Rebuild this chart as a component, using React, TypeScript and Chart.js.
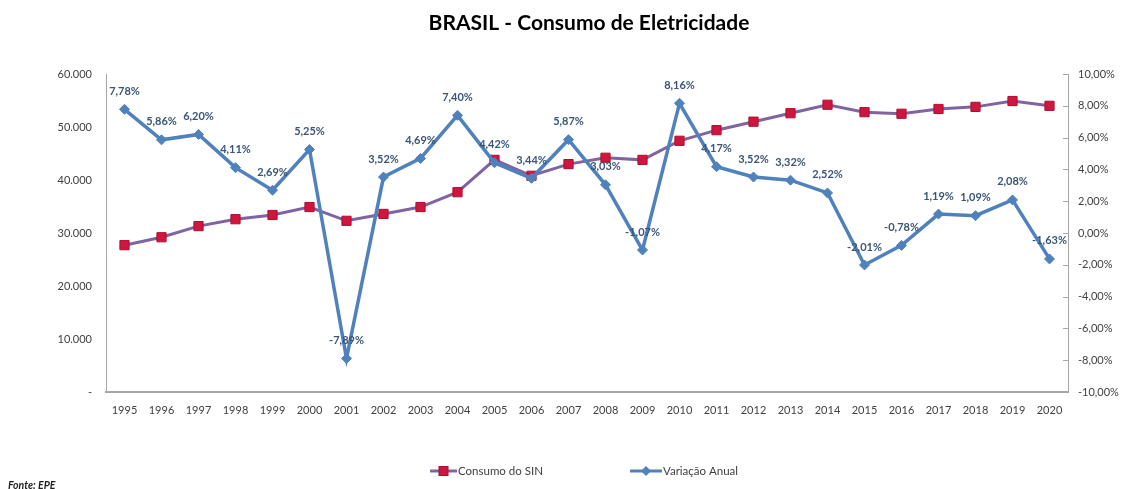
import React, { useEffect, useRef } from "react";
import { Chart, registerables } from "chart.js";

Chart.register(...registerables);

const years = [
  "1995", "1996", "1997", "1998", "1999", "2000", "2001", "2002", "2003", "2004",
  "2005", "2006", "2007", "2008", "2009", "2010", "2011", "2012", "2013", "2014",
  "2015", "2016", "2017", "2018", "2019", "2020",
];

const consumoSIN = [
  27700, 29200, 31300, 32600, 33400, 34900, 32300, 33600, 34900, 37700,
  43800, 40800, 43000, 44200, 43800, 47400, 49400, 51000, 52600, 54200,
  52800, 52500, 53400, 53800, 54900, 54000,
];

const variacaoAnual = [
  7.78, 5.86, 6.2, 4.11, 2.69, 5.25, -7.89, 3.52, 4.69, 7.4,
  4.42, 3.44, 5.87, 3.03, -1.07, 8.16, 4.17, 3.52, 3.32, 2.52,
  -2.01, -0.78, 1.19, 1.09, 2.08, -1.63,
];

const leftTicks = [0, 10000, 20000, 30000, 40000, 50000, 60000];
const rightTicks = [-10, -8, -6, -4, -2, 0, 2, 4, 6, 8, 10];

const titleText = "BRASIL - Consumo de Eletricidade";
const sourceText = "Fonte: EPE";
const seriesNames = ["Consumo do SIN", "Variação Anual"];

const FONT = "Lato, 'Open Sans', sans-serif";
const PURPLE = "#8064A2";
const BLUE = "#4F81BD";
const RED = "#D0163E";
const RED_BORDER = "#A8102E";
const LABEL_BLUE = "#3A5576";
const TICK_COLOR = "#404040";

function fmtThousands(v: number): string {
  if (v === 0) return "-";
  const s = Math.round(v).toString();
  return s.replace(/\B(?=(\d{3})+(?!\d))/g, ".");
}

function fmtPct(v: number): string {
  return v.toFixed(2).replace(".", ",") + "%";
}

const overlayPlugin = {
  id: "overlay",
  afterDatasetsDraw(chart: any) {
    const ctx = chart.ctx as CanvasRenderingContext2D;
    const area = chart.chartArea;
    const meta = chart.getDatasetMeta(1);
    ctx.save();
    ctx.font = `bold 11px ${FONT}`;
    ctx.fillStyle = LABEL_BLUE;
    ctx.textAlign = "center";
    ctx.textBaseline = "middle";
    meta.data.forEach((pt: any, i: number) => {
      ctx.fillText(fmtPct(variacaoAnual[i]), pt.x, pt.y - 18);
    });
    ctx.restore();

    const yR = chart.scales.y1;
    ctx.save();
    ctx.strokeStyle = "#A6A6A6";
    ctx.lineWidth = 1;
    rightTicks.forEach((t) => {
      const py = Math.round(yR.getPixelForValue(t)) + 0.5;
      ctx.beginPath();
      ctx.moveTo(area.right - 5, py);
      ctx.lineTo(area.right, py);
      ctx.stroke();
    });
    ctx.restore();
  },
  afterDraw(chart: any) {
    const ctx = chart.ctx as CanvasRenderingContext2D;
    const area = chart.chartArea;
    const cx = (area.left + area.right) / 2;
    ctx.save();
    ctx.font = `bold 21px ${FONT}`;
    ctx.fillStyle = "#000000";
    ctx.textAlign = "center";
    ctx.textBaseline = "middle";
    ctx.fillText(titleText, cx + 2, 23);

    const ly = 471;
    ctx.font = `11.5px ${FONT}`;
    ctx.textAlign = "left";
    const x1 = cx - 157;
    ctx.strokeStyle = PURPLE;
    ctx.lineWidth = 3;
    ctx.beginPath();
    ctx.moveTo(x1, ly);
    ctx.lineTo(x1 + 27, ly);
    ctx.stroke();
    ctx.fillStyle = RED;
    ctx.strokeStyle = RED_BORDER;
    ctx.lineWidth = 1;
    ctx.fillRect(x1 + 9, ly - 4.5, 9, 9);
    ctx.strokeRect(x1 + 9, ly - 4.5, 9, 9);
    ctx.fillStyle = "#404040";
    ctx.fillText(seriesNames[0], x1 + 28, ly);

    const x2 = cx + 43;
    ctx.strokeStyle = BLUE;
    ctx.lineWidth = 3;
    ctx.beginPath();
    ctx.moveTo(x2, ly);
    ctx.lineTo(x2 + 32, ly);
    ctx.stroke();
    ctx.fillStyle = BLUE;
    ctx.beginPath();
    ctx.moveTo(x2 + 16, ly - 5);
    ctx.lineTo(x2 + 21, ly);
    ctx.lineTo(x2 + 16, ly + 5);
    ctx.lineTo(x2 + 11, ly);
    ctx.closePath();
    ctx.fill();
    ctx.fillStyle = "#404040";
    ctx.fillText(seriesNames[1], x2 + 33, ly);

    ctx.font = `italic bold 10.5px ${FONT}`;
    ctx.fillStyle = "#1F1F1F";
    ctx.textBaseline = "middle";
    ctx.fillText(sourceText, 8, 486);
    ctx.restore();
  },
};

export default function App() {
  const canvasRef = useRef<HTMLCanvasElement | null>(null);

  useEffect(() => {
    if (!canvasRef.current) return;
    const chart = new Chart(canvasRef.current, {
      type: "line",
      data: {
        labels: years,
        datasets: [
          {
            label: seriesNames[0],
            data: consumoSIN,
            yAxisID: "y",
            borderColor: PURPLE,
            borderWidth: 3,
            pointStyle: "rect",
            pointRadius: 6.5,
            pointHoverRadius: 6.5,
            pointBackgroundColor: RED,
            pointBorderColor: RED_BORDER,
            pointBorderWidth: 1,
            tension: 0,
            order: 1,
          },
          {
            label: seriesNames[1],
            data: variacaoAnual,
            yAxisID: "y1",
            borderColor: BLUE,
            borderWidth: 3.5,
            pointStyle: "rectRot",
            pointRadius: 5,
            pointHoverRadius: 5,
            pointBackgroundColor: BLUE,
            pointBorderColor: BLUE,
            pointBorderWidth: 1,
            tension: 0,
            order: 0,
          },
        ],
      },
      options: {
        responsive: true,
        maintainAspectRatio: false,
        animation: false,
        layout: { padding: { top: 74, left: 0, right: 0, bottom: 0 } },
        plugins: {
          legend: { display: false },
          title: { display: false },
          tooltip: { enabled: false },
        },
        scales: {
          x: {
            type: "category",
            offset: true,
            grid: { display: false, drawTicks: false },
            border: { display: true, color: "#A6A6A6", width: 2 },
            ticks: {
              color: TICK_COLOR,
              font: { family: FONT, size: 11 },
              padding: 12,
              maxRotation: 0,
              autoSkip: false,
            },
            afterFit: (s: any) => {
              s.height = 97;
            },
          },
          y: {
            type: "linear",
            position: "left",
            min: 0,
            max: 60000,
            afterBuildTicks: (s: any) => {
              s.ticks = leftTicks.map((v) => ({ value: v }));
            },
            grid: { display: false, drawTicks: false },
            border: { display: true, color: "#A6A6A6", width: 1 },
            ticks: {
              color: TICK_COLOR,
              font: { family: FONT, size: 11 },
              padding: 14,
              callback: (v: any) => fmtThousands(Number(v)),
            },
            afterFit: (s: any) => {
              s.width = 106;
            },
          },
          y1: {
            type: "linear",
            position: "right",
            min: -10,
            max: 10,
            afterBuildTicks: (s: any) => {
              s.ticks = rightTicks.map((v) => ({ value: v }));
            },
            grid: { display: false, drawTicks: false },
            border: { display: true, color: "#A6A6A6", width: 1 },
            ticks: {
              color: TICK_COLOR,
              font: { family: FONT, size: 11 },
              padding: 10,
              callback: (v: any) => fmtPct(Number(v)),
            },
            afterFit: (s: any) => {
              s.width = 54;
            },
          },
        },
      },
      plugins: [overlayPlugin],
    });
    return () => chart.destroy();
  }, []);

  return (
    <div style={{ position: "absolute", left: 0, top: 0, width: 1122, height: 489, background: "#ffffff" }}>
      <canvas ref={canvasRef} />
    </div>
  );
}
